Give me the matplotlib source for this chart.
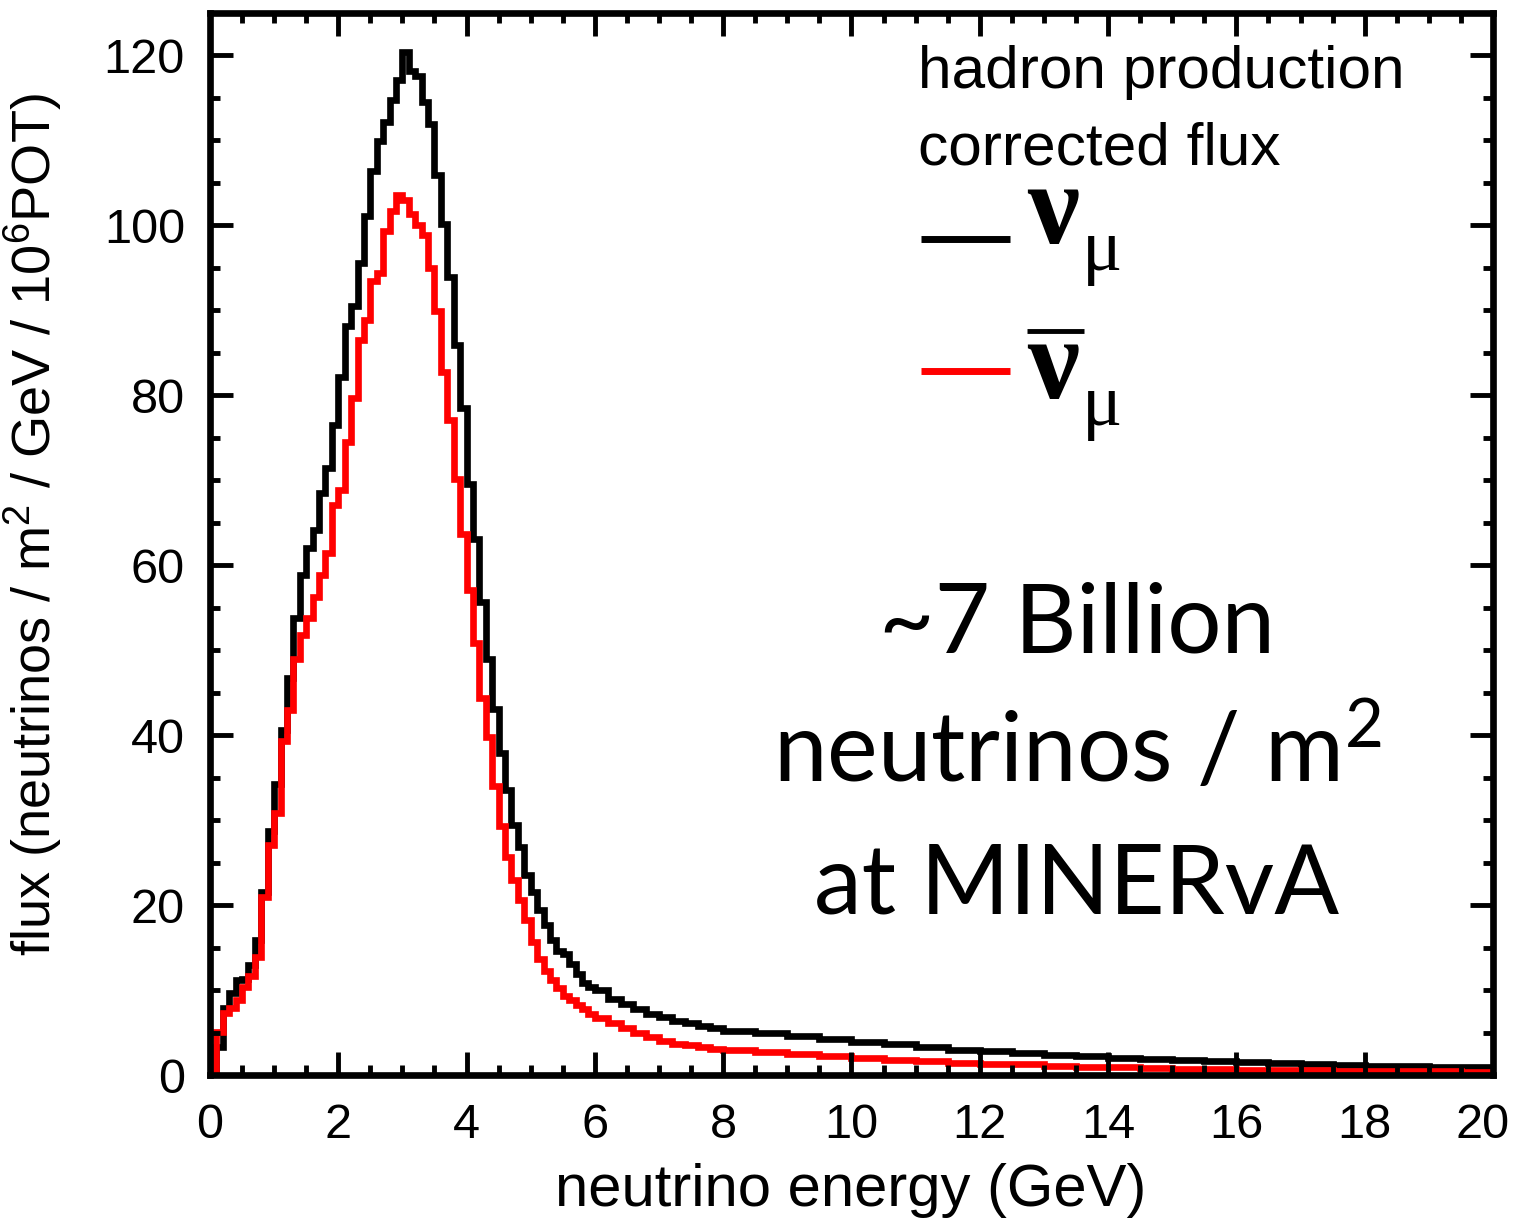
import matplotlib
matplotlib.use("Agg")
import matplotlib.pyplot as plt
import matplotlib.transforms as mtransforms
import numpy as np

# bin edges in GeV: 0.1 GeV bins to 6, 0.2 GeV to 8, 0.5 GeV to 20
edges = np.concatenate([np.linspace(0, 6, 61)[:-1],
                        np.linspace(6, 8, 11)[:-1],
                        np.linspace(8, 20, 25)])

numu = [0.0, 3.3, 7.9, 9.6, 11.2, 11.3, 13.0, 15.9, 21.6, 28.7,
        34.2, 40.6, 46.7, 53.8, 58.8, 62.0, 64.2, 68.5, 71.4, 76.5,
        82.2, 88.2, 90.5, 95.6, 101.1, 106.4, 109.9, 112.2, 114.8, 117.1,
        120.4, 118.2, 117.6, 114.5, 111.9, 105.9, 100.2, 93.9, 85.9, 78.5,
        69.6, 63.1, 55.7, 49.0, 43.1, 37.9, 33.6, 29.4, 26.9, 23.6,
        21.6, 19.4, 17.7, 15.9, 14.6, 14.2, 13.1, 11.9, 10.8, 10.4,
        10.0, 9.0, 8.4, 7.8, 7.2, 6.8, 6.4, 6.1, 5.8, 5.5,
        5.2, 4.9, 4.6, 4.2, 3.9, 3.6, 3.3, 3.0, 2.8, 2.6, 2.4, 2.2,
        2.0, 1.9, 1.75, 1.6, 1.5, 1.4, 1.3, 1.2, 1.1, 1.05, 1.0, 0.95]

numubar = [0.0, 5.1, 7.3, 7.9, 8.8, 10.4, 11.6, 13.9, 21.0, 27.1,
           30.8, 39.3, 43.0, 49.0, 51.8, 53.8, 56.3, 58.8, 61.4, 67.1,
           68.8, 74.5, 79.7, 86.5, 88.9, 93.4, 94.4, 99.3, 101.7, 103.6,
           103.0, 101.3, 100.0, 98.9, 95.0, 89.9, 82.8, 77.1, 70.2, 63.7,
           57.1, 50.8, 44.4, 39.8, 34.0, 29.3, 25.7, 23.0, 20.6, 18.2,
           15.7, 13.7, 12.2, 11.2, 10.2, 9.3, 8.8, 8.2, 7.8, 7.2,
           6.7, 6.1, 5.5, 5.0, 4.5, 4.0, 3.7, 3.5, 3.3, 3.1,
           3.0, 2.7, 2.45, 2.2, 2.0, 1.8, 1.6, 1.45, 1.35, 1.25, 1.1, 1.0,
           0.9, 0.85, 0.75, 0.7, 0.65, 0.6, 0.55, 0.5, 0.48, 0.45, 0.42, 0.4]

xticks = np.arange(0, 21, 2)
yticks = np.arange(0, 121, 20)

sans = ['Liberation Sans', 'DejaVu Sans']

fig = plt.figure(figsize=(15.17, 12.25), dpi=100)
ax = fig.add_axes([0.1384, 0.1224, 0.8458, 0.867])

ax.stairs(numu, edges, color='black', lw=4.8, joinstyle='miter')
ax.stairs(numubar, edges, color='#ff0000', lw=4.8, joinstyle='miter')

ax.set_xlim(0, 20)
ax.set_ylim(0, 125)
ax.set_xticks(xticks)
ax.set_yticks(yticks)
ax.set_xticks(np.arange(0, 20.01, 0.5), minor=True)
ax.set_yticks(np.arange(0, 125.01, 5), minor=True)
ax.tick_params(which='both', direction='in', top=True, right=True, width=3.5)
ax.tick_params(which='major', length=16.5, labelsize=35)
ax.tick_params(axis='x', which='major', pad=20)
ax.tick_params(axis='y', which='major', pad=18)
ax.tick_params(which='minor', length=7)
for lab in ax.get_xticklabels() + ax.get_yticklabels():
    lab.set_family(sans)
# last x label sits a little to the left so it stays inside the figure
last = ax.get_xticklabels()[-1]
last.set_transform(last.get_transform() +
                   mtransforms.ScaledTranslation(-10 / 100, 0, fig.dpi_scale_trans))
for s in ax.spines.values():
    s.set_linewidth(4.8)

ax.set_xlabel('neutrino energy (GeV)', fontsize=43, family=sans)
ax.xaxis.set_label_coords(0.4996, -0.083)
ax.set_ylabel(r'flux (neutrinos / m$\mathregular{^2}$ / GeV / 10$\mathregular{^6}$POT)',
              fontsize=39, family=sans)
ax.yaxis.set_label_coords(-0.114, 0.518)

# legend block
ax.text(0.5518, 0.9294, 'hadron production', transform=ax.transAxes,
        fontsize=43.5, family=sans, va='baseline')
ax.text(0.5518, 0.8569, 'corrected flux', transform=ax.transAxes,
        fontsize=43.5, family=sans, va='baseline')
ax.plot([0.5542, 0.6235], [0.7872, 0.7872], color='black', lw=5,
        transform=ax.transAxes, solid_capstyle='butt')
ax.plot([0.5542, 0.6235], [0.6629, 0.6629], color='#ff0000', lw=5,
        transform=ax.transAxes, solid_capstyle='butt')
ax.text(0.6368, 0.7834, 'ν', transform=ax.transAxes, fontsize=84,
        family='Liberation Serif', weight='bold', va='baseline')
ax.text(0.6797, 0.758, 'μ', transform=ax.transAxes, fontsize=54,
        family='Liberation Serif', va='baseline')
ax.text(0.6368, 0.6375, 'ν', transform=ax.transAxes, fontsize=84,
        family='Liberation Serif', weight='bold', va='baseline')
ax.text(0.6797, 0.612, 'μ', transform=ax.transAxes, fontsize=54,
        family='Liberation Serif', va='baseline')
ax.plot([0.6368, 0.6812], [0.7006, 0.7006], color='black', lw=3.5,
        transform=ax.transAxes, solid_capstyle='butt')

# big annotation
big = ['Lato', 'DejaVu Sans']
ax.text(0.6758, 0.3974, '~7 Billion', transform=ax.transAxes, fontsize=69,
        family=big, ha='center', va='baseline')
ax.text(0.6758, 0.2750, r'neutrinos / m$\mathregular{^2}$', transform=ax.transAxes,
        fontsize=69, family=big, ha='center', va='baseline')
ax.text(0.6758, 0.1525, 'at MINERvA', transform=ax.transAxes, fontsize=69,
        family=big, ha='center', va='baseline')

fig.savefig('out.png', dpi=100)
